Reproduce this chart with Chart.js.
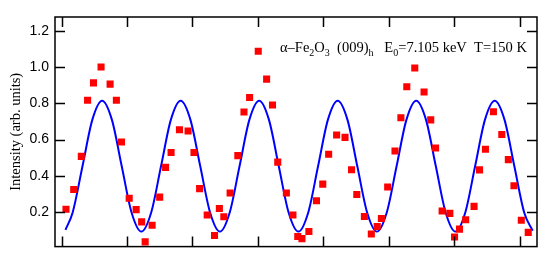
<!DOCTYPE html>
<html>
<head>
<meta charset="utf-8">
<script src="https://cdn.jsdelivr.net/npm/chart.js@4.4.1/dist/chart.umd.min.js"></script>
<style>
html,body{margin:0;padding:0;background:#fff;}
#wrap{width:545px;height:261px;position:relative;}
</style>
</head>
<body>
<div id="wrap"><canvas id="c" width="545" height="261"></canvas></div>
<script>
// Measured points (azimuth, intensity)
const pointX = [3.4, 9.3, 15.1, 19.9, 24.4, 30.2, 37.1, 41.9, 45.8, 51.7, 57.0, 61.2, 63.9, 69.2, 75.0, 79.5, 83.7, 90.1, 96.7, 101.2, 105.5, 111.3, 116.9, 120.6, 124.0, 128.8, 134.7, 139.4, 143.7, 150.3, 156.7, 161.2, 165.2, 171.8, 176.8, 180.5, 183.7, 189.0, 194.8, 199.6, 204.1, 210.2, 216.6, 221.6, 225.6, 231.4, 236.7, 241.2, 244.4, 249.2, 254.8, 259.3, 263.8, 269.9, 277.0, 282.1, 285.8, 290.8, 296.7, 300.3, 304.1, 308.8, 315.2, 319.4, 323.9, 330.0, 336.4, 341.4, 345.7, 351.3, 356.6];
const pointY = [0.214, 0.323, 0.507, 0.818, 0.914, 1.002, 0.907, 0.818, 0.586, 0.275, 0.212, 0.144, 0.033, 0.125, 0.281, 0.446, 0.528, 0.654, 0.647, 0.528, 0.328, 0.182, 0.068, 0.218, 0.172, 0.304, 0.511, 0.753, 0.833, 1.089, 0.935, 0.791, 0.475, 0.304, 0.182, 0.063, 0.051, 0.091, 0.261, 0.353, 0.519, 0.625, 0.612, 0.433, 0.296, 0.174, 0.077, 0.118, 0.163, 0.337, 0.537, 0.721, 0.893, 0.996, 0.863, 0.709, 0.553, 0.204, 0.191, 0.060, 0.104, 0.156, 0.230, 0.432, 0.546, 0.754, 0.628, 0.489, 0.344, 0.153, 0.086];
// Fit curve
const lineX = [3, 8.5, 16, 23.5, 31, 38.5, 46, 53.5, 61, 68.5, 76, 83.5, 91, 98.5, 106, 113.5, 121, 128.5, 136, 143.5, 151, 158.5, 166, 173.5, 181, 188.5, 196, 203.5, 211, 218.5, 226, 233.5, 241, 248.5, 256, 263.5, 271, 278.5, 286, 293.5, 301, 308.5, 316, 323.5, 331, 338.5, 346, 353.5, 360];
const lineY = [0.100, 0.196, 0.452, 0.709, 0.815, 0.709, 0.452, 0.196, 0.090, 0.196, 0.452, 0.709, 0.815, 0.709, 0.452, 0.196, 0.090, 0.196, 0.452, 0.709, 0.815, 0.709, 0.452, 0.196, 0.090, 0.196, 0.452, 0.709, 0.815, 0.709, 0.452, 0.196, 0.090, 0.196, 0.452, 0.709, 0.815, 0.709, 0.452, 0.196, 0.090, 0.196, 0.452, 0.709, 0.815, 0.709, 0.452, 0.196, 0.095];
const xTicks = [0, 50, 100, 150, 200, 250, 300, 350];
const yTicks = [0.2, 0.4, 0.6, 0.8, 1.0, 1.2];
const yTitle = 'Intensity (arb. units)';

const framePlugin = {
  id: 'frame',
  afterDraw(chart) {
    const {ctx, chartArea: a, scales} = chart;
    ctx.save();
    ctx.strokeStyle = '#000';
    ctx.lineWidth = 1.5;
    ctx.strokeRect(a.left, a.top, a.right - a.left, a.bottom - a.top);
    const L = 10;
    ctx.beginPath();
    xTicks.forEach(v => {
      const px = Math.round(scales.x.getPixelForValue(v)) + 0.5;
      ctx.moveTo(px, a.bottom); ctx.lineTo(px, a.bottom - L);
      ctx.moveTo(px, a.top); ctx.lineTo(px, a.top + L);
    });
    yTicks.forEach(v => {
      const py = Math.round(scales.y.getPixelForValue(v)) + 0.5;
      ctx.moveTo(a.left, py); ctx.lineTo(a.left + L, py);
      ctx.moveTo(a.right, py); ctx.lineTo(a.right - L, py);
    });
    ctx.stroke();
    // annotation
    ctx.fillStyle = '#000';
    ctx.textBaseline = 'alphabetic';
    const big = '14.5px "Liberation Serif"', small = '10px "Liberation Serif"';
    let x = 280; const y = 52;
    const parts = [
      ['\u03b1\u2013Fe', big, 0], ['2', small, 4], ['O', big, 0], ['3', small, 4],
      ['  (009)', big, 0], ['h', small, 4], ['   E', big, 0], ['0', small, 4],
      ['=7.105 keV  T=150 K', big, 0]
    ];
    parts.forEach(([t, f, dy]) => {
      ctx.font = f;
      ctx.fillText(t, x, y + dy);
      x += ctx.measureText(t).width;
    });
    ctx.restore();
  }
};

new Chart(document.getElementById('c'), {
  data: {
    datasets: [
      {
        type: 'line',
        data: lineX.map((v, i) => ({x: v, y: lineY[i]})),
        borderColor: '#0000ff',
        borderWidth: 2,
        pointRadius: 0,
        fill: false,
        cubicInterpolationMode: 'monotone',
        order: 1
      },
      {
        type: 'scatter',
        data: pointX.map((v, i) => ({x: v, y: pointY[i]})),
        backgroundColor: '#ff0000',
        borderWidth: 0,
        pointStyle: 'rect',
        pointRadius: 5,
        order: 0
      }
    ]
  },
  options: {
    responsive: false,
    animation: false,
    devicePixelRatio: 1,
    layout: {padding: {left: 0, top: 17, right: 8, bottom: 3}},
    plugins: {legend: {display: false}, tooltip: {enabled: false}},
    scales: {
      x: {
        type: 'linear',
        min: -5, max: 363.3,
        afterBuildTicks: s => { s.ticks = xTicks.map(v => ({value: v})); },
        afterFit: s => { s.height = 0; },
        ticks: {display: false},
        grid: {display: false, drawTicks: false},
        border: {display: false}
      },
      y: {
        type: 'linear',
        min: 0.007, max: 1.279,
        afterBuildTicks: s => { s.ticks = yTicks.map(v => ({value: v})); },
        afterFit: s => { s.width = 55; },
        ticks: {
          color: '#000',
          padding: 6,
          font: {family: '"Liberation Sans"', size: 14},
          callback: v => v.toFixed(1)
        },
        grid: {display: false, drawTicks: false},
        border: {display: false},
        title: {
          display: true,
          text: yTitle,
          color: '#000',
          font: {family: '"Liberation Serif"', size: 14.5},
          padding: {top: 7, bottom: 0}
        }
      }
    }
  },
  plugins: [framePlugin]
});
</script>
</body>
</html>
